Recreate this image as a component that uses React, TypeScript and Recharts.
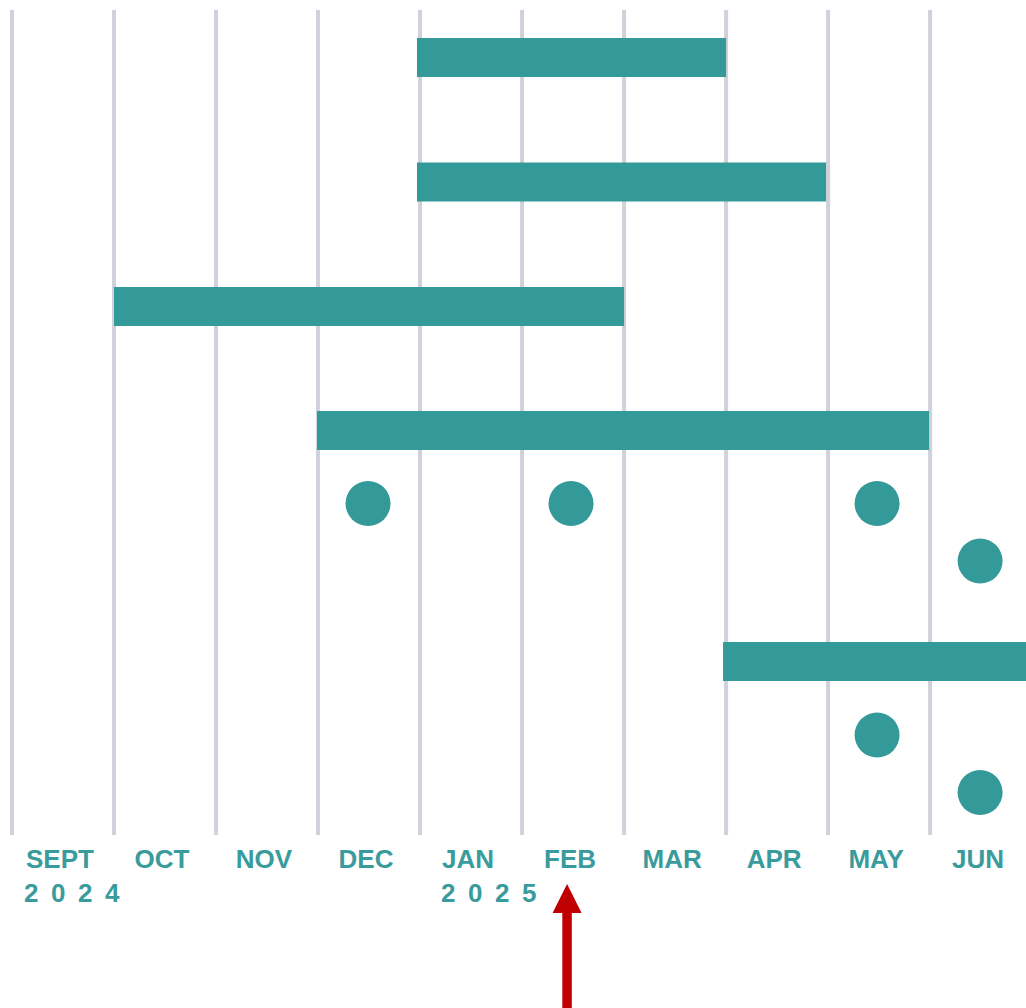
import React from "react";
import { ComposedChart, Line, Scatter, XAxis, YAxis, CartesianGrid } from "recharts";

const months = ["SEPT", "OCT", "NOV", "DEC", "JAN", "FEB", "MAR", "APR", "MAY", "JUN"];
const yearLabels = [
  { month: "SEPT", year: "2024" },
  { month: "JAN", year: "2025" },
];
const arrowMonth = "FEB";

// bars: start / end in month index (0 = SEPT 2024), lane = vertical position (top = 0)
const barStarts = [3.97, 3.97, 1, 2.99, 6.97];
const barEnds = [7, 7.98, 6, 8.99, 10.2];
const barLanes = [0.95, 3.44, 5.93, 8.41, 13.03];

// milestones (dots)
const dotAt = [3.49, 5.48, 8.48, 9.49, 8.48, 9.49];
const dotLanes = [9.87, 9.87, 9.87, 11.02, 14.5, 15.65];

const TEAL = "#339999";
const TEXT_TEAL = "#3a9b9d";
const GRID = "#d0d1db";
const RED = "#c00000";

const monthTicks = months.map((_, i) => i + 0.5);
const gridValues = months.map((_, i) => i);

const barSeries = barStarts.map((s, i) => [
  { x: s, y: barLanes[i] },
  { x: barEnds[i], y: barLanes[i] },
]);
const dotData = dotAt.map((x, i) => ({ x, y: dotLanes[i] }));

const FONT = "'Liberation Sans', Arial, Helvetica, sans-serif";

const MonthTick = (props: any) => {
  const { x, y, payload } = props;
  const idx = Math.round(payload.value - 0.5);
  const label = months[idx];
  if (!label) return null;
  const cx = x - 3;
  const year = yearLabels.find((d) => d.month === label);
  const ax = x - 6;
  return (
    <g>
      <text
        x={cx}
        y={y + 33}
        textAnchor="middle"
        fill={TEXT_TEAL}
        fontFamily={FONT}
        fontWeight="bold"
        fontSize={26}
      >
        {label}
      </text>
      {year && (
        <text
          x={cx - label.length * 9}
          y={y + 67}
          textAnchor="start"
          fill={TEXT_TEAL}
          fontFamily={FONT}
          fontWeight="bold"
          fontSize={26}
          letterSpacing={12.5}
        >
          {year.year}
        </text>
      )}
      {label === arrowMonth && (
        <path
          d={`M ${ax} ${y + 49} L ${ax + 14.5} ${y + 78} L ${ax + 4.75} ${y + 78} L ${ax + 4.75} ${y + 180} L ${ax - 4.75} ${y + 180} L ${ax - 4.75} ${y + 78} L ${ax - 14.5} ${y + 78} Z`}
          fill={RED}
        />
      )}
    </g>
  );
};

const Dot = (p: any) => <circle cx={p.cx} cy={p.cy} r={22.5} fill={TEAL} />;

export default function App() {
  return (
    <div style={{ position: "absolute", left: 0, top: 0, width: 1026, height: 1008, background: "#fff" }}>
      <ComposedChart
        width={1026}
        height={1008}
        margin={{ top: 10, right: 0, left: 12, bottom: 113 }}
      >
        <CartesianGrid horizontal={false} vertical verticalValues={gridValues} stroke={GRID} strokeWidth={4} />
        <XAxis
          type="number"
          dataKey="x"
          domain={[0, 9.94]}
          allowDataOverflow
          ticks={monthTicks}
          interval={0}
          tick={<MonthTick />}
          tickLine={false}
          axisLine={false}
          tickSize={0}
          tickMargin={0}
          height={60}
        />
        <YAxis type="number" dataKey="y" domain={[0, 16.5]} reversed hide allowDataOverflow />
        {barSeries.map((d, i) => (
          <Line
            key={`bar-${i}`}
            data={d}
            dataKey="y"
            stroke={TEAL}
            strokeWidth={39}
            strokeLinecap="butt"
            dot={false}
            activeDot={false}
            isAnimationActive={false}
          />
        ))}
        <Scatter data={dotData} dataKey="y" shape={<Dot />} isAnimationActive={false} />
      </ComposedChart>
    </div>
  );
}
